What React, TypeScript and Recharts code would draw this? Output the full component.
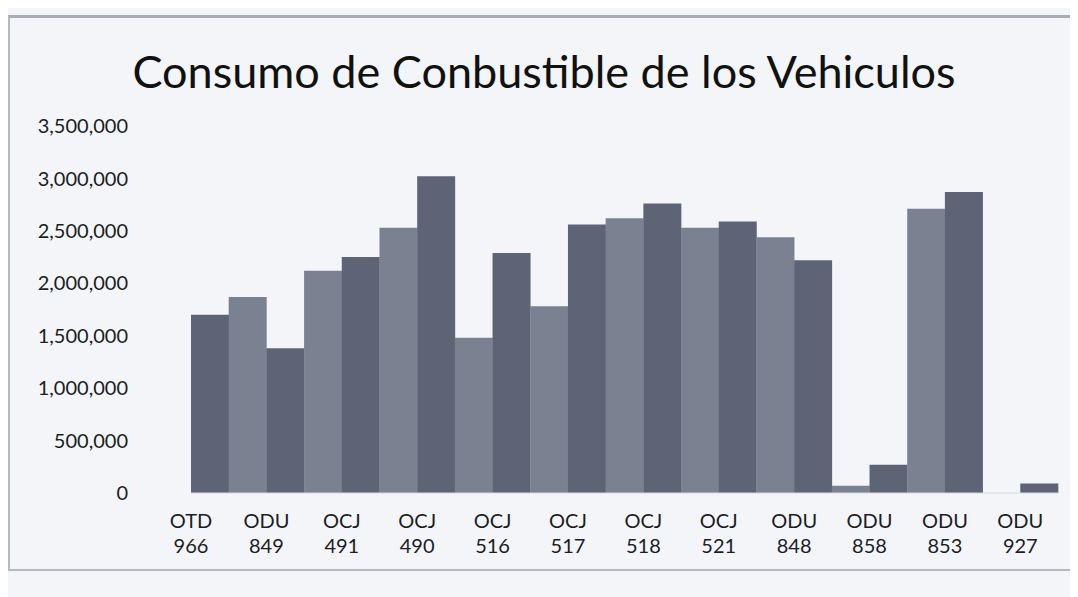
import { BarChart, Bar, XAxis, YAxis, Cell } from "recharts";

const title = "Consumo de Conbustible de los Vehiculos";

const vehicles = [
  "OTD 966", "ODU 849", "OCJ 491", "OCJ 490", "OCJ 516", "OCJ 517",
  "OCJ 518", "OCJ 521", "ODU 848", "ODU 858", "ODU 853", "ODU 927",
];

// one bar per slot, read left to right off the picture
const consumo = [
  1700000, 1870000, 1380000, 2120000, 2250000, 2530000, 3020000, 1480000,
  2290000, 1780000, 2560000, 2620000, 2760000, 2530000, 2590000, 2440000,
  2220000, 70000, 270000, 2710000, 2870000, 0, 90000,
];

const yTicks = [0, 500000, 1000000, 1500000, 2000000, 2500000, 3000000, 3500000];

const barColors = ["#5c6475", "#7a8292"];
const font = "Lato, 'Open Sans', sans-serif";

const data = consumo.map((value, i) => ({ slot: i, value }));

const VehicleTick = (props: any) => {
  const { x, y, payload } = props;
  const i = payload.value as number;
  if (i % 2 !== 0) return <g />;
  const [code, num] = vehicles[i / 2].split(" ");
  const shift = payload.offset ?? 18.85;
  return (
    <g transform={`translate(${x - shift},${y})`}>
      <text textAnchor="middle" fontFamily={font} fontSize={20} fill="#1b1d24">
        <tspan x={0} dy={35}>{code}</tspan>
        <tspan x={0} dy={25}>{num}</tspan>
      </text>
    </g>
  );
};

export default function App() {
  return (
    <div style={{ position: "relative", width: 1070, height: 589, background: "#f3f5f9" }}>
      <div
        style={{
          position: "absolute",
          left: 0,
          top: 7,
          width: 1068,
          height: 551,
          borderTop: "3px solid #a9adb5",
          borderLeft: "2px solid #b4b8c0",
          borderBottom: "2px solid #b4b8c0",
        }}
      />
      <div
        style={{
          position: "absolute",
          left: 0,
          width: 1072,
          top: 36,
          textAlign: "center",
          fontFamily: font,
          fontSize: 45,
          color: "#111",
        }}
      >
        {title}
      </div>
      <div style={{ position: "absolute", left: 0, top: 0 }}>
        <BarChart
          width={1070}
          height={589}
          data={data}
          margin={{ top: 118, right: 20, bottom: 34, left: 0 }}
          barCategoryGap={0}
        >
          <XAxis
            dataKey="slot"
            type="category"
            interval={0}
            tickLine={false}
            tickSize={0}
            tickMargin={0}
            axisLine={{ stroke: "#d6d9df" }}
            tick={<VehicleTick />}
            height={70}
          />
          <YAxis
            domain={[0, 3500000]}
            ticks={yTicks}
            width={183}
            axisLine={false}
            tickLine={false}
            tickSize={0}
            tickMargin={63}
            tickFormatter={(v: number) => v.toLocaleString("en-US")}
            tick={{ fontFamily: font, fontSize: 20, fill: "#1b1d24" }}
          />
          <Bar dataKey="value" isAnimationActive={false}>
            {data.map((d) => (
              <Cell key={`bar-${d.slot}`} fill={barColors[d.slot % 2]} />
            ))}
          </Bar>
        </BarChart>
      </div>
    </div>
  );
}
